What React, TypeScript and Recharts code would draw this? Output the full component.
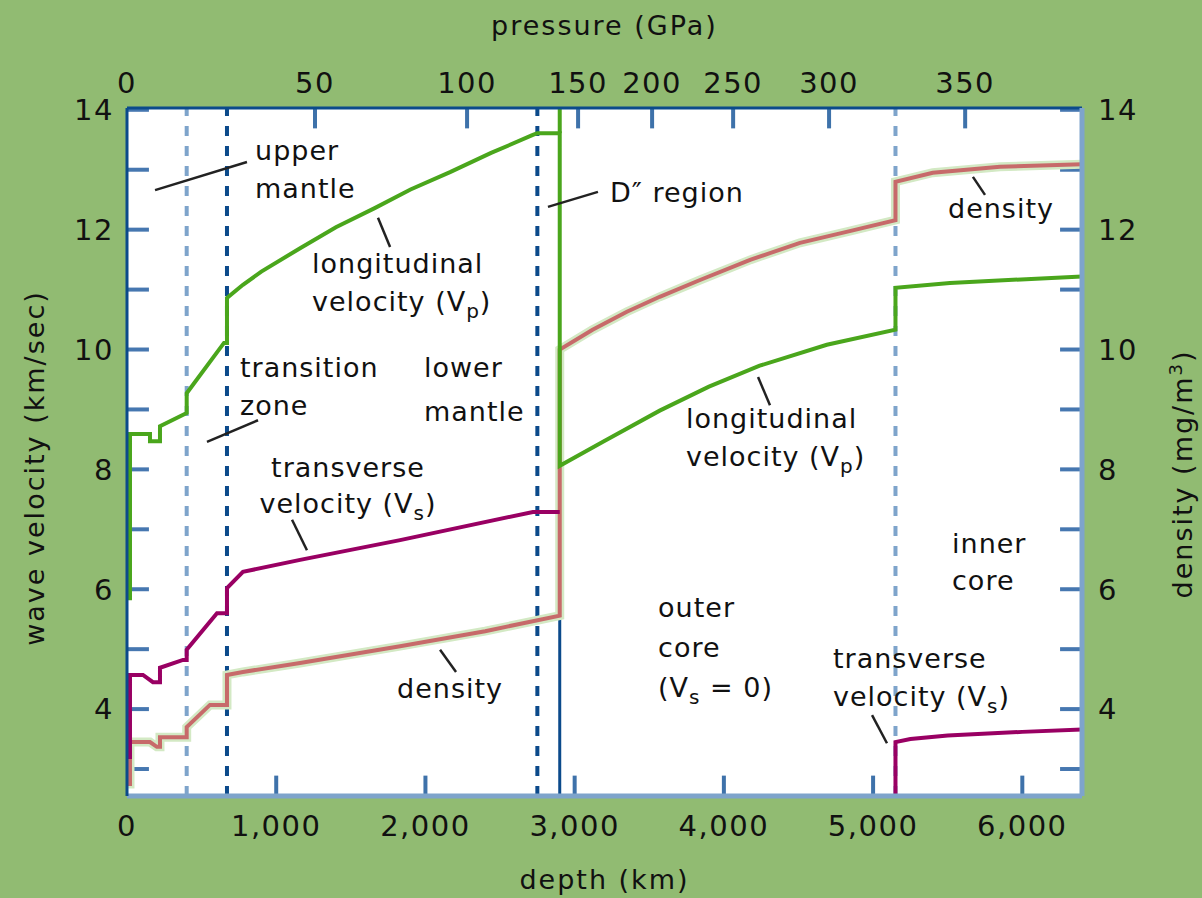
import React from 'react'
import {
  LineChart, Line, XAxis, YAxis, CartesianGrid,
  ReferenceLine, ReferenceDot, Label,
} from 'recharts'

const FONT = '"DejaVu Sans", Verdana, sans-serif'
const PAGE_BG = '#91bb72'
const DARK_BLUE = '#0b4a8b'
const LIGHT_BLUE = '#7ea4cb'
const VP_GREEN = '#4aa61c'
const VS_MAGENTA = '#990063'
const RHO_ROSE = '#c76a6a'
const RHO_HALO = '#d3e9c4'
const INK = '#111111'

const DEPTH_MAX = 6400
const V_MIN = 2.55
const V_MAX = 14.03

// axes
const depthTicks = [0, 1000, 2000, 3000, 4000, 5000, 6000]
const velocityTicks = [4, 6, 8, 10, 12, 14]
const minorTicks = [3, 4, 5, 6, 7, 8, 9, 10, 11, 12, 13, 14]
// pressure scale on top: label (GPa) and the depth (km) where it sits
const pressureLabels = [0, 50, 100, 150, 200, 250, 300, 350]
const pressureDepths = [0, 1260, 2279, 3023, 3519, 4062, 4705, 5617]

// layer boundaries (km)
const lightBoundaries = [400, 5150]
const darkBoundaries = [670, 2750]
const CMB = 2900

// longitudinal velocity Vp (km/s)
const vpDepth = [0, 20, 20, 154, 154, 221, 221, 400, 400, 650, 670, 670, 777, 900, 1160, 1400, 1660, 1900, 2165, 2440, 2720, 2750, 2900,
  2900, 3190, 3570, 3900, 4240, 4690, 5150, 5150, 5515, 6400]
const vpValue = [5.85, 5.85, 8.59, 8.59, 8.47, 8.47, 8.72, 8.94, 9.27, 10.11, 10.11, 10.86, 11.08, 11.3, 11.69, 12.04, 12.36, 12.67, 12.96, 13.28, 13.58, 13.61, 13.61,
  8.06, 8.46, 8.98, 9.38, 9.73, 10.08, 10.33, 11.03, 11.11, 11.22]

// transverse velocity Vs (km/s), mantle and inner core
const vsDepth = [0, 20, 20, 107, 174, 221, 221, 375, 400, 400, 603, 670, 670, 777, 1160, 1830, 2720, 2900]
const vsValue = [3.2, 3.2, 4.57, 4.57, 4.45, 4.45, 4.69, 4.82, 4.82, 4.99, 5.6, 5.6, 6.02, 6.29, 6.49, 6.82, 7.29, 7.29]
const vsInnerDepth = [5150, 5150, 5250, 5500, 6000, 6400]
const vsInnerValue = [2.55, 3.45, 3.5, 3.56, 3.62, 3.66]

// density (mg/m3)
const rhoDepth = [0, 20, 20, 154, 200, 221, 221, 400, 400, 556, 670, 670, 777, 1160, 1830, 2400, 2900,
  2900, 3120, 3350, 3570, 3840, 4180, 4510, 4850, 5150, 5150, 5400, 5850, 6400]
const rhoValue = [2.75, 2.75, 3.45, 3.45, 3.37, 3.37, 3.53, 3.53, 3.7, 4.07, 4.07, 4.57, 4.62, 4.77, 5.05, 5.3, 5.56,
  10.0, 10.33, 10.63, 10.88, 11.16, 11.5, 11.78, 11.98, 12.16, 12.8, 12.95, 13.05, 13.09]

const zip = (xs: number[], ys: number[]) => xs.map((d, i) => ({ d, v: ys[i] }))

type Piece = string | { sub: string }
interface Note {
  at: [number, number]
  lines: Piece[][]
  anchor?: 'start' | 'middle'
  gap?: number
  leader?: [[number, number], [number, number]]
}

const notes: Note[] = [
  { at: [858, 13.16], lines: [['upper'], ['mantle']], leader: [[188, 12.66], [804, 13.13]] },
  { at: [1240, 11.28], lines: [['longitudinal'], ['velocity (V', { sub: 'p' }, ')']], leader: [[1682, 12.2], [1763, 11.71]] },
  { at: [3237, 12.46], lines: [['D\u2033 region']], leader: [[2821, 12.38], [3156, 12.63]] },
  { at: [757, 9.54], lines: [['transition'], ['zone']], leader: [[536, 8.46], [878, 8.82]] },
  { at: [1990, 9.54], lines: [['lower'], ['mantle']], gap: 44 },
  { at: [1481, 7.87], anchor: 'middle', gap: 36, lines: [['transverse'], ['velocity (V', { sub: 's' }, ')']], leader: [[1106, 7.16], [1206, 6.65]] },
  { at: [2165, 4.19], anchor: 'middle', lines: [['density']], leader: [[2098, 4.99], [2205, 4.62]] },
  { at: [3559, 5.54], lines: [['outer'], ['core'], ['(V', { sub: 's' }, ' = 0)']], gap: 40 },
  { at: [4731, 4.69], lines: [['transverse'], ['velocity (V', { sub: 's' }, ')']], leader: [[4993, 3.9], [5093, 3.43]] },
  { at: [5529, 6.6], lines: [['inner'], ['core']], gap: 37 },
  { at: [5502, 12.2], lines: [['density']], leader: [[5669, 12.88], [5750, 12.58]] },
  { at: [3746, 8.69], lines: [['longitudinal'], ['velocity (V', { sub: 'p' }, ')']], leader: [[4229, 9.54], [4309, 9.07]] },
]

function pieces(parts: Piece[]) {
  const out: React.ReactNode[] = []
  let lowered = false
  parts.forEach((p, i) => {
    if (typeof p === 'string') {
      out.push(<tspan key={i} dy={lowered ? -7 : 0}>{p}</tspan>)
      lowered = false
    } else {
      out.push(<tspan key={i} dy={7} fontSize={20}>{p.sub}</tspan>)
      lowered = true
    }
  })
  return out
}

const noteContent = (note: Note) => (props: any) => {
  const vb = props.viewBox || { x: 0, y: 0, width: 0, height: 0 }
  const x = vb.x + (vb.width || 0) / 2
  const y = vb.y + (vb.height || 0) / 2
  const gap = note.gap ?? 38
  return (
    <g>
      {note.lines.map((ln, i) => (
        <text key={i} x={x} y={y + i * gap} textAnchor={note.anchor ?? 'start'}
          fontSize={27} letterSpacing={1} fill={INK} fontFamily={FONT}>
          {pieces(ln)}
        </text>
      ))}
    </g>
  )
}

const tickStyle = { fill: INK, fontSize: 29, fontFamily: FONT, letterSpacing: 1.5 }
const titleStyle = { fill: INK, fontSize: 27, fontFamily: FONT, letterSpacing: 2 }

export default function App() {
  const TICK_DX = 147
  const TICK_DY = 0.34

  return (
    <div style={{ position: 'absolute', left: 0, top: 0, width: 1202, height: 898, background: PAGE_BG, fontFamily: FONT }}>
      <LineChart width={1202} height={898} margin={{ top: 58, right: 20, bottom: 52, left: 27 }}>
        <CartesianGrid fill="#ffffff" horizontal={false} vertical={false} />

        <XAxis dataKey="d" type="number" domain={[0, DEPTH_MAX]} ticks={depthTicks} interval={0}
          allowDataOverflow height={50} tickSize={0} tickMargin={19} tickLine={false}
          tickFormatter={(v: number) => v.toLocaleString('en-US')}
          tick={tickStyle} axisLine={{ stroke: LIGHT_BLUE, strokeWidth: 5 }}>
          <Label content={(p: any) => (
            <text x={p.viewBox.x + p.viewBox.width / 2} y={p.viewBox.y + 93} textAnchor="middle" {...titleStyle}>depth (km)</text>
          )} />
        </XAxis>
        <XAxis xAxisId="top" orientation="top" dataKey="d" type="number" domain={[0, DEPTH_MAX]} ticks={pressureDepths}
          interval={0} allowDataOverflow height={50} tickSize={0} tickMargin={15} tickLine={false}
          tickFormatter={(v: number) => String(pressureLabels[pressureDepths.indexOf(v)])}
          tick={tickStyle} axisLine={{ stroke: DARK_BLUE, strokeWidth: 3 }}>
          <Label content={(p: any) => (
            <text x={p.viewBox.x + p.viewBox.width / 2} y={p.viewBox.y - 23} textAnchor="middle" {...titleStyle}>pressure (GPa)</text>
          )} />
        </XAxis>
        <YAxis yAxisId="left" type="number" domain={[V_MIN, V_MAX]} ticks={velocityTicks} interval={0}
          allowDataOverflow width={100} tickSize={0} tickMargin={13} tickLine={false}
          tick={tickStyle} axisLine={{ stroke: DARK_BLUE, strokeWidth: 3 }}>
          <Label content={(p: any) => {
            const cx = p.viewBox.x + 17
            const cy = p.viewBox.y + p.viewBox.height / 2 + 16
            return <text x={cx} y={cy} transform={`rotate(-90 ${cx} ${cy})`} textAnchor="middle" {...titleStyle}>wave velocity (km/sec)</text>
          }} />
        </YAxis>
        <YAxis yAxisId="right" orientation="right" type="number" domain={[V_MIN, V_MAX]} ticks={velocityTicks} interval={0}
          allowDataOverflow width={100} tickSize={0} tickMargin={16} tickLine={false}
          tick={tickStyle} axisLine={{ stroke: LIGHT_BLUE, strokeWidth: 5 }}>
          <Label content={(p: any) => {
            const cx = p.viewBox.x + 110
            const cy = p.viewBox.y + p.viewBox.height / 2 + 22
            return <text x={cx} y={cy} transform={`rotate(-90 ${cx} ${cy})`} textAnchor="middle" {...titleStyle}>density (mg/m<tspan dy={-10} fontSize={18}>3</tspan><tspan dy={10}>)</tspan></text>
          }} />
        </YAxis>

        {/* inner tick marks */}
        {minorTicks.map((t) => (
          <ReferenceLine key={'l' + t} yAxisId="left" ifOverflow="visible" stroke="#4677b0" strokeWidth={4}
            segment={[{ x: 0, y: t }, { x: TICK_DX, y: t }]} />
        ))}
        {minorTicks.map((t) => (
          <ReferenceLine key={'r' + t} yAxisId="left" ifOverflow="visible" stroke="#4677b0" strokeWidth={4}
            segment={[{ x: DEPTH_MAX - TICK_DX, y: t }, { x: DEPTH_MAX, y: t }]} />
        ))}
        {depthTicks.slice(1).map((t) => (
          <ReferenceLine key={'b' + t} yAxisId="left" ifOverflow="visible" stroke="#3e72aa" strokeWidth={4}
            segment={[{ x: t, y: V_MIN }, { x: t, y: V_MIN + TICK_DY }]} />
        ))}
        {pressureDepths.slice(1).map((t) => (
          <ReferenceLine key={'t' + t} yAxisId="left" ifOverflow="visible" stroke="#3e72aa" strokeWidth={4}
            segment={[{ x: t, y: V_MAX }, { x: t, y: V_MAX - TICK_DY }]} />
        ))}

        {/* layer boundaries */}
        {lightBoundaries.map((d) => (
          <ReferenceLine key={'lb' + d} yAxisId="left" x={d} stroke={LIGHT_BLUE} strokeWidth={4} strokeDasharray="10 10" />
        ))}
        {darkBoundaries.map((d) => (
          <ReferenceLine key={'db' + d} yAxisId="left" x={d} stroke={DARK_BLUE} strokeWidth={4} strokeDasharray="10 10" />
        ))}
        <ReferenceLine yAxisId="left" ifOverflow="visible" stroke={DARK_BLUE} strokeWidth={3}
          segment={[{ x: CMB, y: V_MIN }, { x: CMB, y: 5.56 }]} />
        <ReferenceLine yAxisId="left" ifOverflow="visible" stroke={VP_GREEN} strokeWidth={4}
          segment={[{ x: CMB, y: 13.61 }, { x: CMB, y: V_MAX }]} />

        <Line yAxisId="right" data={zip(rhoDepth, rhoValue)} dataKey="v" type="linear" stroke={RHO_HALO}
          strokeWidth={9} dot={false} activeDot={false} isAnimationActive={false} />
        <Line yAxisId="right" data={zip(rhoDepth, rhoValue)} dataKey="v" type="linear" stroke={RHO_ROSE}
          strokeWidth={4} dot={false} activeDot={false} isAnimationActive={false} />
        <Line yAxisId="left" data={zip(vpDepth, vpValue)} dataKey="v" type="linear" stroke={VP_GREEN}
          strokeWidth={4} dot={false} activeDot={false} isAnimationActive={false} />
        <Line yAxisId="left" data={zip(vsDepth, vsValue)} dataKey="v" type="linear" stroke={VS_MAGENTA}
          strokeWidth={4} dot={false} activeDot={false} isAnimationActive={false} />
        <Line yAxisId="left" data={zip(vsInnerDepth, vsInnerValue)} dataKey="v" type="linear" stroke={VS_MAGENTA}
          strokeWidth={4} dot={false} activeDot={false} isAnimationActive={false} />

        {/* annotations */}
        {notes.filter((n) => n.leader).map((n, i) => (
          <ReferenceLine key={'ld' + i} yAxisId="left" ifOverflow="visible" stroke="#222" strokeWidth={2.5}
            segment={[{ x: n.leader![0][0], y: n.leader![0][1] }, { x: n.leader![1][0], y: n.leader![1][1] }]} />
        ))}
        {notes.map((n, i) => (
          <ReferenceDot key={'nt' + i} yAxisId="left" x={n.at[0]} y={n.at[1]} r={0} fill="none" stroke="none"
            ifOverflow="visible" label={{ content: noteContent(n) }} />
        ))}
      </LineChart>
    </div>
  )
}
